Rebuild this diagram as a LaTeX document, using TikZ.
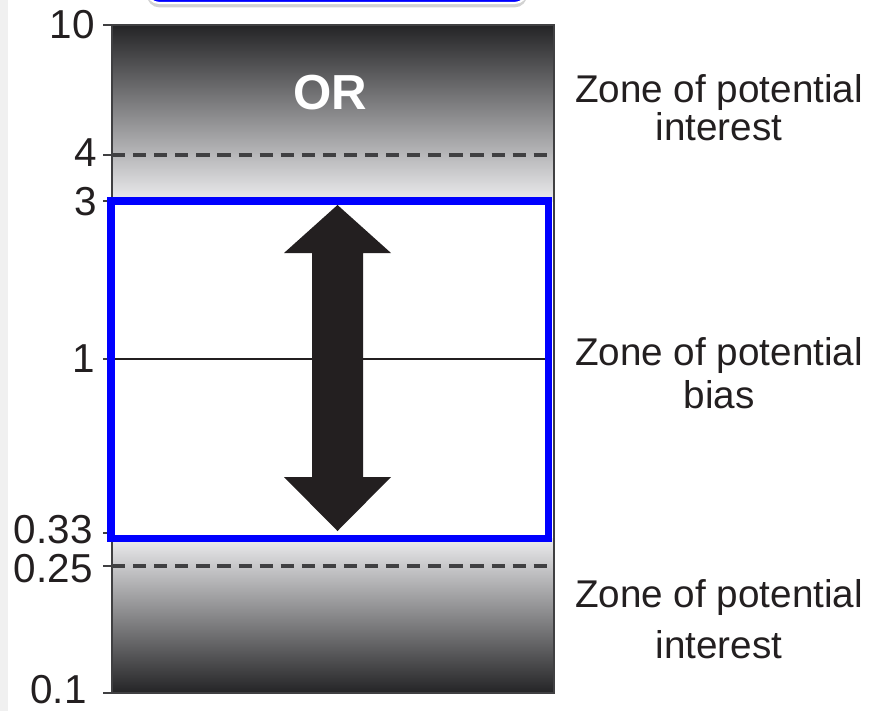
\documentclass[tikz,border=0pt]{standalone}
\usepackage{fontspec}
\setmainfont{Liberation Sans}
\usetikzlibrary{shadows}

\definecolor{boxblue}{RGB}{0,0,255}
\definecolor{ink}{RGB}{35,31,32}
\definecolor{darkbar}{RGB}{36,36,38}
\definecolor{lightbar}{RGB}{236,236,238}
\definecolor{linegrey}{RGB}{64,64,66}

\tikzset{
    ticklabel/.style={anchor=east, inner sep=0pt, text=ink, font=\fontsize{23}{23}\selectfont},
    zonelabel/.style={anchor=base, inner sep=0pt, text=ink, font=\fontsize{22}{22}\selectfont},
    barline/.style={draw=linegrey, line width=1.4pt},
    dashline/.style={draw=linegrey, line width=2pt, dash pattern=on 7.5pt off 4.5pt},
    zonebox/.style={draw=boxblue, line width=4pt}
}

\begin{document}
\begin{tikzpicture}[x=0.02cm, y=-0.02cm]

        \useasboundingbox (0, 0) rectangle (872, 711);
        \fill[white] (0, 0) rectangle (872, 711);
        \fill[gray!12] (0, 0) rectangle (8, 711);

        \filldraw[fill=boxblue, draw=white, line width=1.2pt, rounded corners=7pt,
            drop shadow={opacity=0.35, shadow xshift=0pt, shadow yshift=-2.5pt}]
            (147, -40) rectangle (527, 3);

        \shade[top color=darkbar, bottom color=lightbar] (112, 25) rectangle (553, 201);
        \shade[top color=lightbar, bottom color=darkbar] (112, 538) rectangle (553, 693);

        \coordinate (a-10) at (112, 25);
        \coordinate (a-4) at (112, 155);
        \coordinate (a-3) at (112, 201);
        \coordinate (a-1) at (112, 359);
        \coordinate (a-033) at (112, 533);
        \coordinate (a-025) at (112, 566);
        \coordinate (a-01) at (112, 693);

        \coordinate (r-4) at (553, 155);
        \coordinate (r-1) at (548, 359);
        \coordinate (r-025) at (553, 566);
        \coordinate (r-01) at (554, 693);

        \node (l-10) at (95, 25) [ticklabel] {10};
        \node (l-4) at (97, 153) [ticklabel] {4};
        \node (l-3) at (97, 202) [ticklabel] {3};
        \node (l-1) at (95, 359) [ticklabel] {1};
        \node (l-033) at (93, 530) [ticklabel] {0.33};
        \node (l-025) at (93, 569) [ticklabel] {0.25};
        \node (l-01) at (87, 690) [ticklabel] {0.1};

        \draw[barline] (a-10) rectangle (r-01);
        \draw[barline] (a-10) -- +(-9, 0);
        \draw[barline] (a-4) -- +(-9, 0);
        \draw[barline] (a-3) -- +(-9, 0);
        \draw[barline] (a-1) -- +(-9, 0);
        \draw[barline] (a-033) -- +(-9, 0);
        \draw[barline] (a-025) -- +(-9, 0);
        \draw[barline] (a-01) -- +(-9, 0);

        \draw[dashline] (a-4) -- (r-4);
        \draw[dashline] (a-025) -- (r-025);
        \draw[draw=ink, line width=1pt] (a-1) -- (r-1);

        \draw[zonebox] (111, 201) rectangle (548.5, 538.5);

        \fill[ink] (337.5, 205) -- (391, 253) -- (363, 253) -- (363, 477) -- (391, 477)
            -- (337.5, 531) -- (284, 477) -- (312, 477) -- (312, 253) -- (284, 253) -- cycle;

        \node (or) at (330, 93) [text=white, font=\bfseries\fontsize{28}{28}\selectfont] {OR};

        \node (z-1) at (719, 102) [zonelabel] {Zone of potential};
        \node (z-2) at (719, 140) [zonelabel] {interest};
        \node (z-3) at (719, 365) [zonelabel] {Zone of potential};
        \node (z-4) at (719, 408) [zonelabel] {bias};
        \node (z-5) at (719, 607) [zonelabel] {Zone of potential};
        \node (z-6) at (719, 658) [zonelabel] {interest};

    \end{tikzpicture}
\end{document}
